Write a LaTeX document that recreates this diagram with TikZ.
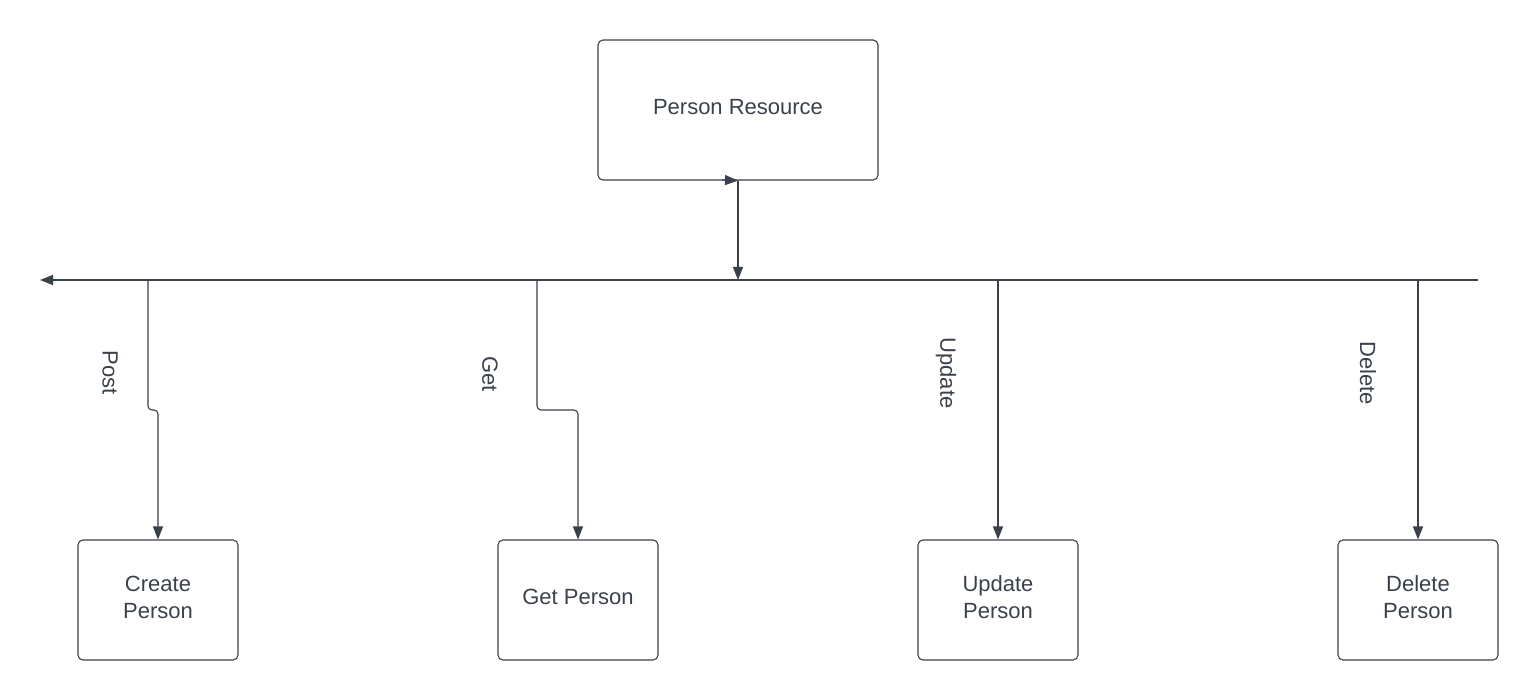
\documentclass[tikz,border=0pt]{standalone}
\usepackage{fontspec}
\setmainfont{Liberation Sans}
\usetikzlibrary{arrows.meta}
\definecolor{ink}{HTML}{3A414A}
\tikzset{
  box/.style={draw=ink, line width=1.1pt, rounded corners=5pt, text=ink, align=center,
    font=\fontsize{22}{27}\selectfont, inner sep=0pt, text depth=6pt},
  conn/.style={draw=ink, line width=1.1pt, -{Triangle[length=13pt,width=10pt]}},
  lab/.style={text=ink, font=\fontsize{22}{27}\selectfont, rotate=-90, inner sep=0pt}
}
\begin{document}
\begin{tikzpicture}[x=1pt,y=-1pt]
\useasboundingbox (0,0) rectangle (1538,700);
\node[box, minimum width=280pt, minimum height=140pt] (res) at (738,110) {Person Resource};
\node[box, minimum width=160pt, minimum height=120pt] (c1) at (158,600) {Create\\Person};
\node[box, minimum width=160pt, minimum height=120pt] (c2) at (578,600) {Get Person};
\node[box, minimum width=160pt, minimum height=120pt] (c3) at (998,600) {Update\\Person};
\node[box, minimum width=160pt, minimum height=120pt] (c4) at (1418,600) {Delete\\Person};
\coordinate (hr) at (1478,280);
\coordinate (hl) at (40,280);
\coordinate (hm) at (738,280);
\coordinate (p1) at (148,280);
\coordinate (p2) at (537,280);
\coordinate (p3) at (998,280);
\coordinate (p4) at (1418,280);
\coordinate (ts) at (722,180);
% bus line
\draw[conn] (hr) -- (hl);
% from resource
\draw[conn] (ts) -- (res.south);
\draw[conn] (res.south) -- (hm);
% branches
\draw[conn, rounded corners=4pt] (p1) -- (148,410) -| (c1.north);
\draw[conn, rounded corners=4pt] (p2) -- (537,410) -| (c2.north);
\draw[conn] (p3) -- (c3.north);
\draw[conn] (p4) -- (c4.north);
% labels
\node[lab] (l1) at (110,373) {Post};
\node[lab] (l2) at (490,374) {Get};
\node[lab] (l3) at (946,373) {Update};
\node[lab] (l4) at (1368,373) {Delete};
\end{tikzpicture}
\end{document}
